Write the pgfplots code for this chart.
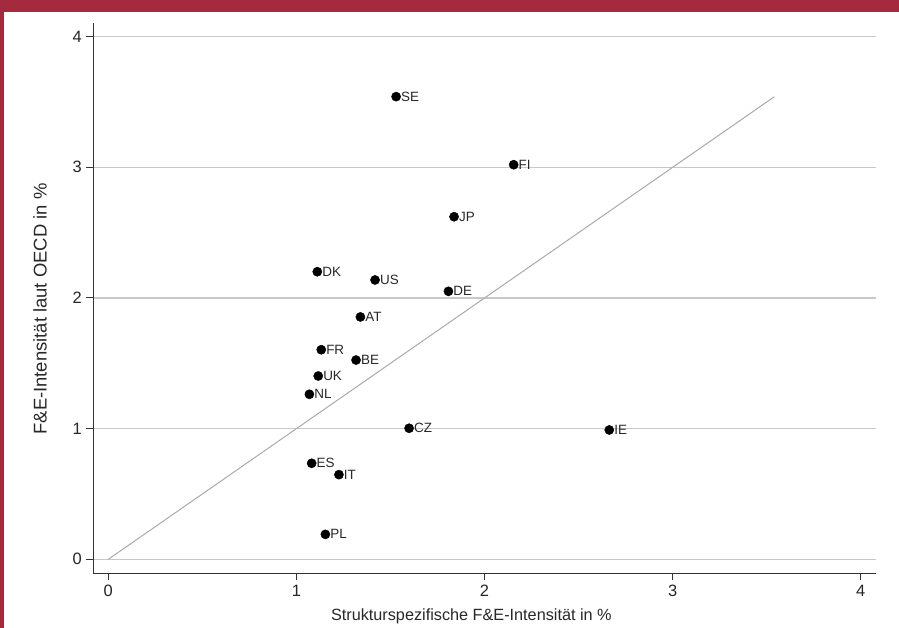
\documentclass[border=0pt]{standalone}
\usepackage{fontspec}
\setmainfont{Liberation Sans}
\usepackage{pgfplots}
\pgfplotsset{compat=1.18}
\definecolor{framered}{RGB}{165,42,62}
\definecolor{gridgray}{RGB}{200,200,200}
\definecolor{diaggray}{RGB}{170,170,170}
\definecolor{txtgray}{RGB}{40,40,40}
\begin{document}
\begin{tikzpicture}[x=1bp,y=1bp]
\fill[white] (0,0) rectangle (899,628);
\fill[framered] (0,616) rectangle (899,628);
\fill[framered] (0,0) rectangle (4,628);
\begin{axis}[
  at={(93.3bp,54.7bp)}, anchor=south west,
  scale only axis, width=782.7bp, height=550.6bp,
  xmin=-0.0797, xmax=4.081, ymin=-0.107, ymax=4.107,
  axis x line*=bottom, axis y line*=left,
  axis line style={black!80, line width=1.2bp, -},
  xtick={0,1,2,3,4}, ytick={0,1,2,3,4},
  tick align=outside, major tick length=7bp,
  tick style={black!80, line width=1bp},
  ymajorgrids, grid style={gridgray, line width=1.2bp},
  /pgf/number format/assume math mode=true,
  ticklabel style={font=\fontsize{16.5}{18}\selectfont, text=black!85},
  xticklabel style={yshift=-1bp},
  yticklabel style={xshift=-1bp},
  xlabel={Strukturspezifische F\&E-Intensität in \%},
  ylabel={F\&E-Intensität laut OECD in \%},
  label style={text=txtgray},
  xlabel style={font=\fontsize{16.3}{18}\selectfont, at={(axis description cs:0.483,-0.0776)}, anchor=center},
  ylabel style={font=\fontsize{18.5}{20}\selectfont, at={(axis description cs:-0.0682,0.48)}, anchor=center},
  clip=false,
  nodes near coords,
  point meta=explicit symbolic,
  every node near coord/.append style={anchor=west, xshift=1.5bp, font=\fontsize{13.5}{15}\selectfont, text=txtgray},
]
\addplot[diaggray, line width=1bp, no marks, nodes near coords={}] coordinates {(0,0) (3.54,3.54)};
\addplot[only marks, mark=*, mark size=4.6bp, black] table[meta=lab] {
x y lab
1.530 3.541 SE
2.155 3.020 FI
1.838 2.622 JP
1.111 2.201 DK
1.418 2.138 US
1.808 2.051 DE
1.340 1.855 AT
1.132 1.604 FR
1.317 1.525 BE
1.116 1.403 UK
1.069 1.263 NL
1.599 1.003 CZ
2.663 0.990 IE
1.081 0.735 ES
1.226 0.648 IT
1.154 0.191 PL
};
\end{axis}
\end{tikzpicture}
\end{document}
